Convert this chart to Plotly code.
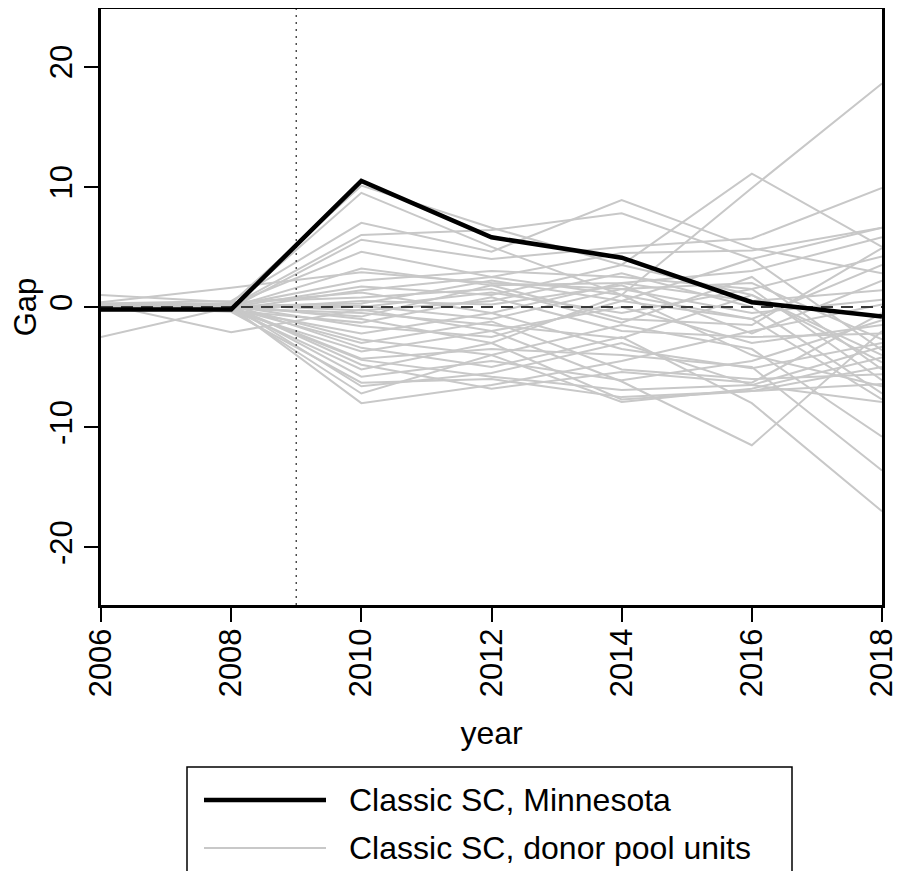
import plotly.graph_objects as go

years = [2006, 2008, 2010, 2012, 2014, 2016, 2018]

minnesota = [-0.2, -0.2, 10.5, 5.8, 4.1, 0.4, -0.8]

donors = [
    [0.2, 0.3, 10.1, 6.6, 3.5, 11.1, 5.0],
    [0.1, 0.0, 9.5, 5.0, 1.0, 9.9, 18.6],
    [0.3, 0.5, 7.0, 4.6, 8.9, 4.9, 2.8],
    [-0.2, 0.1, 6.0, 6.4, 7.8, 4.0, 6.6],
    [0.0, -0.1, 5.6, 4.0, 5.0, 5.7, 9.9],
    [0.1, 0.2, 4.6, 2.5, 4.5, 4.7, 6.6],
    [-0.1, 0.0, 3.2, 1.8, 2.0, 3.0, 5.8],
    [0.4, 1.6, 2.9, 2.0, 1.5, 2.0, -2.7],
    [0.0, 0.1, 2.2, 3.0, 2.5, 1.5, 4.2],
    [0.2, 0.0, 1.7, 1.0, 3.5, 1.0, -4.0],
    [-0.3, -0.2, 1.4, 2.5, 1.0, -1.0, 3.5],
    [0.1, 0.3, 1.2, -0.5, 2.0, 0.5, 1.4],
    [1.0, 0.4, 0.8, 1.5, -1.3, 2.5, -5.2],
    [0.0, -0.2, 0.5, 0.2, 1.8, -2.2, 2.2],
    [-0.1, 0.1, 0.3, 2.2, 0.5, 4.0, -3.6],
    [0.2, 0.0, 0.1, -1.0, 1.5, -0.5, 0.6],
    [-2.5, 0.0, 0.0, 1.2, -0.5, 1.5, -6.1],
    [0.3, -2.1, -0.2, -2.0, 0.0, -3.0, -1.5],
    [-0.2, 0.2, -0.3, 0.5, 2.8, 0.0, -7.2],
    [0.1, -0.1, -0.5, -1.5, -2.6, 1.0, -4.6],
    [0.0, 0.0, -0.8, 1.8, -1.0, -1.5, 4.9],
    [-0.3, 0.2, -1.0, -3.0, 1.0, -4.0, -6.6],
    [0.2, -0.3, -1.3, 0.8, -2.0, -2.5, -2.2],
    [-0.1, 0.1, -1.6, -2.5, 0.5, -1.0, -7.7],
    [0.0, -0.2, -2.2, -0.5, -3.5, -5.1, -3.0],
    [0.3, 0.1, -2.7, -4.0, -1.5, -3.5, -10.8],
    [-0.2, -0.1, -3.0, -1.2, -5.2, -6.0, -5.6],
    [0.1, 0.2, -3.4, -5.0, -2.5, -8.0, -17.0],
    [0.0, -0.3, -3.7, -2.0, -6.2, -11.5, -2.0],
    [-0.1, 0.0, -4.3, -3.5, -4.0, -5.0, -13.6],
    [0.2, -0.1, -4.4, -5.8, -6.9, -6.5, -3.3],
    [0.0, 0.1, -4.8, -6.8, -5.4, -6.3, -0.5],
    [-0.2, -0.2, -5.2, -3.0, -7.7, -7.0, -6.4],
    [0.1, 0.0, -5.8, -4.5, -6.1, -4.5, -1.1],
    [0.0, -0.4, -6.3, -6.0, -7.5, -7.0, -5.0],
    [-0.1, 0.1, -6.6, -5.5, -3.0, -6.5, -7.9],
    [0.2, -0.2, -7.2, -4.0, -7.9, -6.8, -4.2],
    [0.0, 0.0, -8.0, -6.5, -4.5, -2.0, 0.2],
]

treatment_year = 2009
x_range = [2006, 2018]
y_range = [-24.8, 24.8]
x_ticks = [2006, 2008, 2010, 2012, 2014, 2016, 2018]
y_ticks = [-20, -10, 0, 10, 20]
legend_labels = ["Classic SC, Minnesota", "Classic SC, donor pool units"]

FONT = "Liberation Sans, Arial, Helvetica, sans-serif"
GRAY = "#c8c8c8"

# figure geometry (the page adds an 8px body margin)
W, H = 894, 863
L, T, PW, PH = 93, 1, 781, 596


def px_to_paper(fx, fy):
    return (fx - L) / PW, (T + PH - fy) / PH


fig = go.Figure()

for d in donors:
    fig.add_trace(go.Scatter(
        x=years, y=d, mode="lines",
        line=dict(color=GRAY, width=2),
        name=legend_labels[1], showlegend=False, hoverinfo="skip",
    ))

# reference lines
fig.add_trace(go.Scatter(
    x=x_range, y=[0, 0], mode="lines",
    line=dict(color="#3a3a3a", width=2, dash="12px,8px"),
    showlegend=False, hoverinfo="skip",
))
fig.add_trace(go.Scatter(
    x=[treatment_year, treatment_year], y=y_range, mode="lines",
    line=dict(color="#444444", width=1.4, dash="2px,5px"),
    showlegend=False, hoverinfo="skip",
))

fig.add_trace(go.Scatter(
    x=years, y=minnesota, mode="lines",
    line=dict(color="black", width=4.5),
    name=legend_labels[0], showlegend=False,
))

fig.update_layout(
    width=W, height=H,
    margin=dict(l=L, r=W - L - PW, t=T, b=H - T - PH, autoexpand=False),
    paper_bgcolor="white", plot_bgcolor="white",
    font=dict(family=FONT, size=31, color="black"),
    showlegend=False,
)

fig.update_xaxes(
    range=x_range, tickvals=x_ticks, ticktext=[str(v) for v in x_ticks],
    tickangle=-90, ticks="outside", ticklen=14, tickwidth=2, tickcolor="black",
    ticklabelstandoff=-6, ticklabeloverflow="allow",
    showline=True, linewidth=3, linecolor="black", mirror=True,
    showgrid=False, zeroline=False,
    title=dict(text="year", font=dict(size=32), standoff=26),
    tickfont=dict(size=31),
)
fig.update_yaxes(
    range=y_range, tickvals=y_ticks, ticktext=[str(v) for v in y_ticks],
    tickangle=-90, ticks="outside", ticklen=14, tickwidth=2, tickcolor="black",
    ticklabelstandoff=0, ticklabeloverflow="allow",
    showline=True, linewidth=3, linecolor="black", mirror=True,
    showgrid=False, zeroline=False,
    title=dict(text="Gap", font=dict(size=31), standoff=12),
    tickfont=dict(size=31),
)

# legend box (drawn manually to match the long line samples)
bx0, by1 = px_to_paper(179, 759)
bx1, by0 = px_to_paper(784, 900)
fig.add_shape(type="rect", xref="paper", yref="paper",
              x0=bx0, x1=bx1, y0=by0, y1=by1,
              line=dict(color="black", width=1.5), fillcolor="white", layer="above")
legend_rows = [792, 840]
legend_styles = [dict(color="black", width=4.5), dict(color=GRAY, width=2)]
for lab, yy, st in zip(legend_labels, legend_rows, legend_styles):
    sx0, yp = px_to_paper(196, yy)
    sx1, _ = px_to_paper(318, yy)
    tx, _ = px_to_paper(339, yy)
    fig.add_shape(type="line", xref="paper", yref="paper",
                  x0=sx0, x1=sx1, y0=yp, y1=yp, line=st, layer="above")
    fig.add_annotation(text=lab, xref="paper", yref="paper",
                       x=tx, y=yp, xanchor="left", yanchor="middle",
                       showarrow=False, font=dict(size=32, family=FONT, color="black"))

fig.write_html("out.html")
